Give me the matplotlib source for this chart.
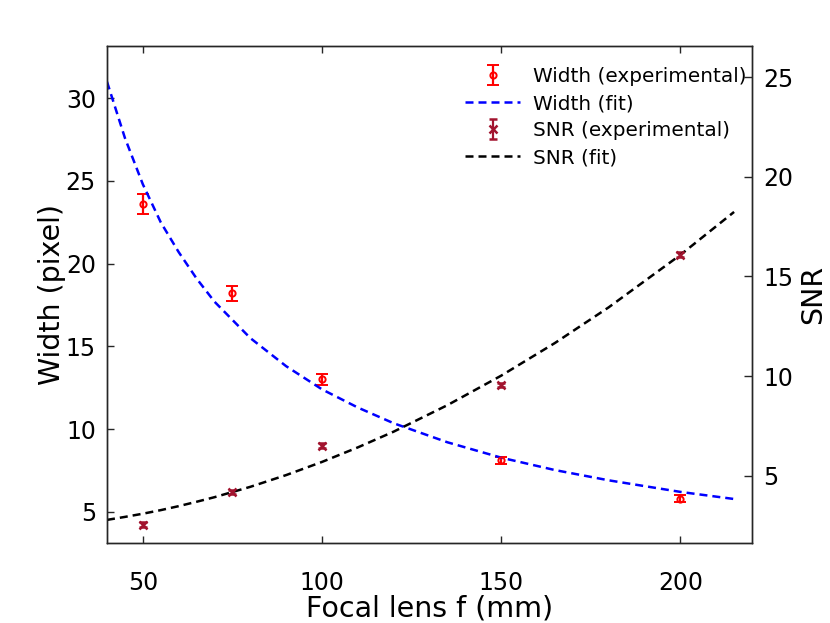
import matplotlib

matplotlib.use("Agg", force=True)
import matplotlib.pyplot as plt

# experimental points
focal = [50, 75, 100, 150, 200]
width_exp = [23.6, 18.2, 13.0, 8.1, 5.8]
width_err = [0.6, 0.46, 0.33, 0.22, 0.19]
snr_exp = [2.53, 4.18, 6.51, 9.55, 16.1]
snr_err = [0.12, 0.1, 0.12, 0.12, 0.12]

# fit curves
fit_f = [40, 45, 50, 55, 60, 65, 70, 80, 90, 100, 110, 120, 135, 150, 165, 180, 200, 215]
width_fit = [31.0, 27.6, 24.8, 22.5, 20.7, 19.1, 17.7, 15.5, 13.8, 12.4, 11.3, 10.35,
             9.2, 8.27, 7.52, 6.9, 6.2, 5.77]
snr_fit = [2.78, 2.93, 3.09, 3.27, 3.47, 3.69, 3.92, 4.44, 5.03, 5.69, 6.42, 7.21,
           8.54, 10.02, 11.66, 13.45, 16.08, 18.24]

width_ticks = [5, 10, 15, 20, 25, 30]
snr_ticks = [5, 10, 15, 20, 25]
focal_ticks = [50, 100, 150, 200]

RED = "#ff0000"
BLUE = "#0000ff"
WINE = "#a2142f"
SPINE = "#262626"

plt.rcParams["font.family"] = "DejaVu Sans"

fig = plt.figure(figsize=(8.3, 6.23), dpi=100)
ax = fig.add_axes([107 / 830, 80 / 623, 645 / 830, 497 / 623])
ax2 = ax.twinx()

h1 = ax.errorbar(focal, width_exp, yerr=width_err, fmt="o", color=RED, mfc="none",
                 ms=4.5, mew=1.4, elinewidth=1.6, capsize=4.3, capthick=1.8)
(h2,) = ax.plot(fit_f, width_fit, color=BLUE, lw=1.8, dashes=(3.2, 2.0))

h3 = ax2.errorbar(focal, snr_exp, yerr=snr_err, fmt="x", color=WINE,
                  ms=6, mew=1.8, elinewidth=1.6, capsize=3.2, capthick=1.8)
(h4,) = ax2.plot(fit_f, snr_fit, color="black", lw=1.8, dashes=(3.2, 2.0))

ax.set_xlim(40, 220)
ax.set_ylim(3.11, 33.16)
ax2.set_ylim(1.62, 26.57)
ax.set_xticks(focal_ticks)
ax.set_yticks(width_ticks)
ax2.set_yticks(snr_ticks)

ax.tick_params(axis="x", direction="in", length=5, width=1, colors=SPINE,
               labelcolor="black", labelsize=17, pad=20, top=True)
ax.tick_params(axis="y", direction="in", length=5, width=1, colors=SPINE,
               labelcolor="black", labelsize=17, pad=8)
ax2.tick_params(axis="y", direction="in", length=6, width=1, colors=SPINE,
                labelcolor="black", labelsize=17, pad=8)
for axis in (ax, ax2):
    for spine in axis.spines.values():
        spine.set_color(SPINE)
        spine.set_linewidth(1)

ax.set_xlabel("Focal lens f (mm)", fontsize=20.5, labelpad=0)
ax.set_ylabel("Width (pixel)", fontsize=20.5, labelpad=0)
ax2.set_ylabel("SNR", fontsize=20.5, labelpad=4)

ax2.legend(
    [h1, h2, h3, h4],
    ["Width (experimental)", "Width (fit)", "SNR (experimental)", "SNR (fit)"],
    loc="upper right",
    bbox_to_anchor=(746 / 830, 1 - 67 / 623),
    bbox_transform=fig.transFigure,
    frameon=False,
    fontsize=14.4,
    handlelength=2.75,
    handletextpad=0.62,
    labelspacing=0.4,
    borderpad=0,
    borderaxespad=0,
)

fig.savefig("out.png", dpi=100)
